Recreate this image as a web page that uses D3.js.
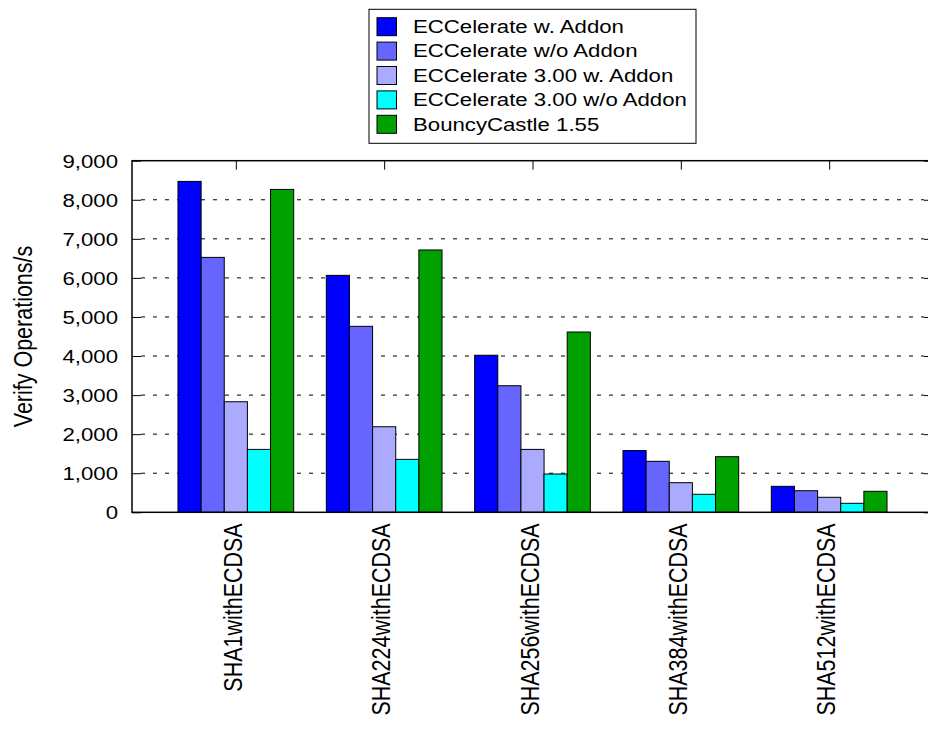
<!DOCTYPE html>
<html>
<head>
<meta charset="utf-8">
<script src="https://cdn.jsdelivr.net/npm/d3@7"></script>
<style>
  html, body { margin: 0; padding: 0; background: #fff; }
  svg { display: block; font-family: "Liberation Sans", Arial, Helvetica, sans-serif; }
</style>
</head>
<body>
<svg id="chart" width="928" height="744"></svg>
<script>
// Signature algorithms benchmarked
const categories = ["SHA1withECDSA", "SHA224withECDSA", "SHA256withECDSA", "SHA384withECDSA", "SHA512withECDSA"];

// Verify operations per second, one array per library configuration
const seriesNames = [
  "ECCelerate w. Addon",
  "ECCelerate w/o Addon",
  "ECCelerate 3.00 w. Addon",
  "ECCelerate 3.00 w/o Addon",
  "BouncyCastle 1.55"
];
const eccAddon      = [8470, 6065, 4020, 1580, 665];
const eccNoAddon    = [6525, 4760, 3240, 1305, 553];
const ecc300Addon   = [2830, 2190, 1610, 758, 384];
const ecc300NoAddon = [1610, 1355, 980, 461, 230];
const bouncyCastle  = [8265, 6715, 4615, 1423, 537];
const seriesValues = [eccAddon, eccNoAddon, ecc300Addon, ecc300NoAddon, bouncyCastle];
const seriesColors = ["#0000ff", "#6666ff", "#aaaaff", "#00ffff", "#00a000"];

const yTicks = [0, 1000, 2000, 3000, 4000, 5000, 6000, 7000, 8000, 9000];

const svg = d3.select("#chart");
const plotL = 132, plotR = 933, plotT = 160.7, plotB = 512.3;
const stretch = 1.2;   // text is set wide

const x = d3.scaleLinear().domain([-0.7, categories.length - 0.3]).range([plotL, plotR]);
const y = d3.scaleLinear().domain([0, 9000]).range([plotB, plotT]);
const groupW = (x(1) - x(0)) * 0.78;
const barW = groupW / seriesNames.length;
const fmt = d3.format(",");
const tickLen = 9;

// Dashed horizontal grid
svg.append("g").selectAll("line")
  .data(yTicks.filter(d => d > 0 && d < 9000))
  .join("line")
  .attr("x1", plotL + tickLen).attr("x2", plotR - tickLen)
  .attr("y1", d => y(d)).attr("y2", d => y(d))
  .attr("stroke", "#000").attr("stroke-width", 1)
  .attr("stroke-dasharray", "4,8");

// Bars
const bars = svg.append("g");
seriesValues.forEach((vals, s) => {
  bars.append("g").selectAll("rect")
    .data(vals)
    .join("rect")
    .attr("x", (d, i) => x(i) - groupW / 2 + s * barW)
    .attr("y", d => y(d))
    .attr("width", barW)
    .attr("height", d => y(0) - y(d))
    .attr("fill", seriesColors[s])
    .attr("stroke", "#000")
    .attr("stroke-width", 1);
});

// Y axis (left) with inward ticks, mirrored ticks on the right
const gy = svg.append("g").attr("transform", `translate(${plotL},0)`)
  .call(d3.axisLeft(y).tickValues(yTicks).tickFormat(fmt).tickSize(-tickLen));
gy.select(".domain").remove();
gy.selectAll("line").attr("stroke", "#000").attr("stroke-width", 1);
gy.selectAll("text")
  .attr("x", null).attr("dy", null)
  .attr("transform", `translate(${118 - plotL},0) scale(${stretch},1)`)
  .attr("dominant-baseline", "central")
  .attr("font-size", 18.5).attr("fill", "#000");

const gyr = svg.append("g").attr("transform", `translate(${plotR},0)`)
  .call(d3.axisRight(y).tickValues(yTicks).tickFormat("").tickSize(-tickLen));
gyr.select(".domain").remove();
gyr.selectAll("line").attr("stroke", "#000").attr("stroke-width", 1);

// X axis: mirrored category ticks on the top border, rotated labels below
const gxt = svg.append("g").attr("transform", `translate(0,${plotT})`)
  .call(d3.axisTop(x).tickValues(d3.range(categories.length)).tickFormat("").tickSize(-tickLen));
gxt.select(".domain").remove();
gxt.selectAll("line").attr("stroke", "#000").attr("stroke-width", 1);

svg.append("g").selectAll("text")
  .data(categories)
  .join("text")
  .attr("transform", (d, i) => `translate(${x(i) - 3},${plotB + 11}) scale(${stretch},1) rotate(-90)`)
  .attr("text-anchor", "end")
  .attr("dy", "0.36em")
  .attr("font-size", 21.5)
  .attr("fill", "#000")
  .text(d => d);

// Plot border
svg.append("rect")
  .attr("x", plotL).attr("y", plotT)
  .attr("width", plotR - plotL).attr("height", plotB - plotT)
  .attr("fill", "none").attr("stroke", "#000").attr("stroke-width", 1.5);

// Y axis title
svg.append("text")
  .attr("transform", `translate(32,${(plotT + plotB) / 2}) scale(${stretch},1) rotate(-90)`)
  .attr("text-anchor", "middle")
  .attr("font-size", 21.5)
  .attr("fill", "#000")
  .text("Verify Operations/s");

// Legend
const lg = svg.append("g");
lg.append("rect")
  .attr("x", 369).attr("y", 9.3).attr("width", 327).attr("height", 134)
  .attr("fill", "#fff").attr("stroke", "#000").attr("stroke-width", 1);
const rowH = 24.4;
const rows = lg.selectAll("g.row")
  .data(seriesNames)
  .join("g")
  .attr("class", "row")
  .attr("transform", (d, i) => `translate(0,${26.7 + i * rowH})`);
rows.append("rect")
  .attr("x", 377).attr("y", -9).attr("width", 19.5).attr("height", 18)
  .attr("fill", (d, i) => seriesColors[i])
  .attr("stroke", "#000").attr("stroke-width", 1);
rows.append("text")
  .attr("transform", `translate(413,0) scale(${stretch},1)`)
  .attr("dominant-baseline", "central")
  .attr("font-size", 18.5)
  .attr("fill", "#000")
  .text(d => d);
</script>
</body>
</html>
